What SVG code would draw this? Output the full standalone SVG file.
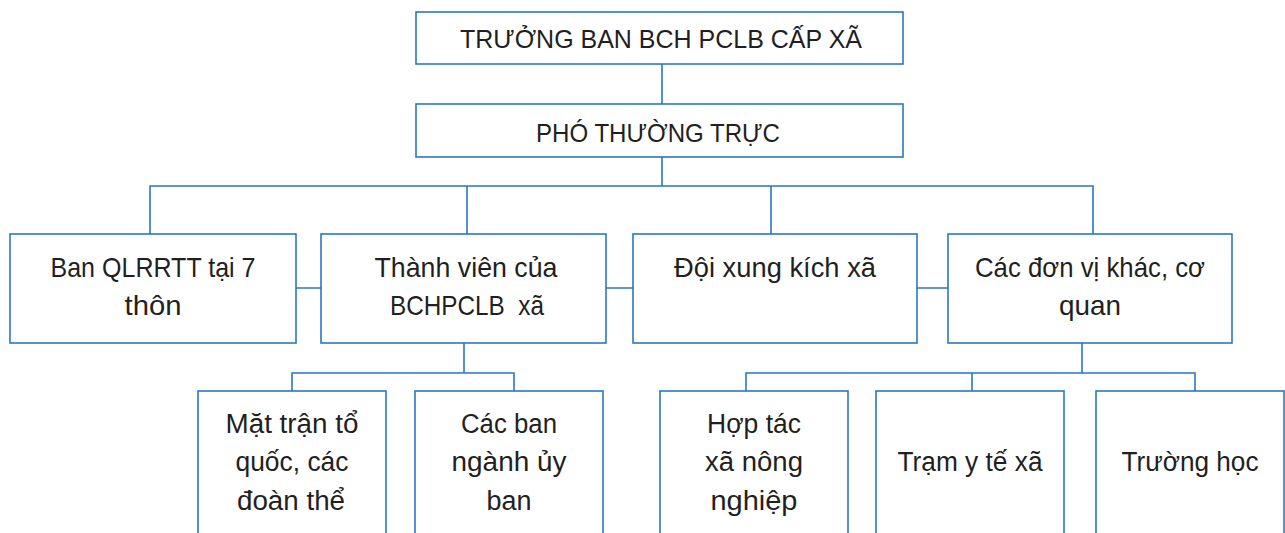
<svg xmlns="http://www.w3.org/2000/svg" width="1285" height="533" viewBox="0 0 1285 533">
<style>
.box{fill:#fff;stroke:#2a78be;stroke-width:1.6}
.ln{fill:none;stroke:#2a78be;stroke-width:1.6}
text{font-family:"Liberation Sans",Arial,sans-serif;fill:#231f20;text-anchor:middle}
.t0{font-size:25.5px}
.t1{font-size:28px}
.t2{font-size:27px}
</style>
<rect width="1285" height="533" fill="#fff"/>
<g id="connectors">
<path class="ln" d="M662 64V104M662 157V186M150 234V186H1093V234M467 186V234M771 186V234"/>
<path class="ln" d="M296 288H321M606 288H633M917 288H948"/>
<path class="ln" d="M464 343V373M292 391V373H514V391"/>
<path class="ln" d="M1082 343V373M746 391V373H1195V391M972 373V391"/>
</g>
<g id="n-truong-ban"><rect class="box" x="416" y="12" width="487" height="52"/><text class="t0" x="661" y="48" textLength="402" lengthAdjust="spacingAndGlyphs">TRƯỞNG BAN BCH PCLB CẤP XÃ</text></g>
<g id="n-pho"><rect class="box" x="416" y="104" width="487" height="53"/><text class="t0" x="658" y="142" textLength="244" lengthAdjust="spacingAndGlyphs">PHÓ THƯỜNG TRỰC</text></g>
<g id="n-ban-ql"><rect class="box" x="10" y="234" width="286" height="109"/><text class="t1" x="153" y="277" textLength="205" lengthAdjust="spacingAndGlyphs">Ban QLRRTT tại 7</text><text class="t1" x="153" y="315" textLength="57" lengthAdjust="spacingAndGlyphs">thôn</text></g>
<g id="n-thanh-vien"><rect class="box" x="321" y="234" width="285" height="109"/><text class="t1" x="466" y="277" textLength="183" lengthAdjust="spacingAndGlyphs">Thành viên của</text><text class="t1" x="467" y="315" textLength="154" lengthAdjust="spacingAndGlyphs" xml:space="preserve">BCHPCLB  xã</text></g>
<g id="n-doi"><rect class="box" x="633" y="234" width="284" height="109"/><text class="t1" x="775" y="277" textLength="202" lengthAdjust="spacingAndGlyphs">Đội xung kích xã</text></g>
<g id="n-cac-don-vi"><rect class="box" x="948" y="234" width="284" height="109"/><text class="t1" x="1090" y="277" textLength="230" lengthAdjust="spacingAndGlyphs">Các đơn vị khác, cơ</text><text class="t1" x="1090" y="315" textLength="62" lengthAdjust="spacingAndGlyphs">quan</text></g>
<g id="n-mat-tran"><rect class="box" x="198" y="391" width="188" height="160"/><text class="t2" x="292" y="433" textLength="133" lengthAdjust="spacingAndGlyphs">Mặt trận tổ</text><text class="t2" x="292" y="471" textLength="113" lengthAdjust="spacingAndGlyphs">quốc, các</text><text class="t2" x="291" y="510" textLength="108" lengthAdjust="spacingAndGlyphs">đoàn thể</text></g>
<g id="n-cac-ban"><rect class="box" x="415" y="391" width="188" height="160"/><text class="t2" x="509" y="433" textLength="96" lengthAdjust="spacingAndGlyphs">Các ban</text><text class="t2" x="509" y="471" textLength="115" lengthAdjust="spacingAndGlyphs">ngành ủy</text><text class="t2" x="509" y="510" textLength="45" lengthAdjust="spacingAndGlyphs">ban</text></g>
<g id="n-hop-tac"><rect class="box" x="660" y="391" width="188" height="160"/><text class="t2" x="754" y="433" textLength="94" lengthAdjust="spacingAndGlyphs">Hợp tác</text><text class="t2" x="754" y="471" textLength="98" lengthAdjust="spacingAndGlyphs">xã nông</text><text class="t2" x="754" y="510" textLength="87" lengthAdjust="spacingAndGlyphs">nghiệp</text></g>
<g id="n-tram"><rect class="box" x="876" y="391" width="188" height="160"/><text class="t2" x="970" y="471" textLength="145" lengthAdjust="spacingAndGlyphs">Trạm y tế xã</text></g>
<g id="n-truong-hoc"><rect class="box" x="1096" y="391" width="188" height="160"/><text class="t2" x="1190" y="471" textLength="137" lengthAdjust="spacingAndGlyphs">Trường học</text></g>
</svg>
